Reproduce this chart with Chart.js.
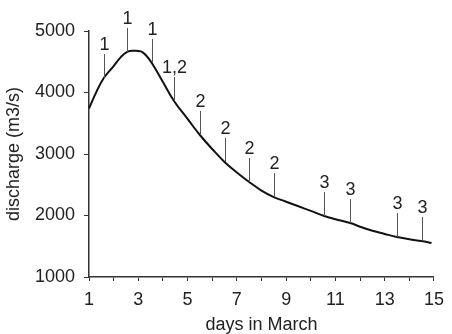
<!DOCTYPE html>
<html>
<head>
<meta charset="utf-8">
<script src="https://cdn.jsdelivr.net/npm/chart.js@4"></script>
<style>
  body { margin: 0; background: #fff; }
  #wrap { width: 452px; height: 334px; }
</style>
</head>
<body>
<div id="wrap"><canvas id="chart-discharge"></canvas></div>
<script>
// discharge curve
const days = [1, 1.3, 1.6, 2, 2.3, 2.55, 2.8, 3.1, 3.3, 3.55, 4, 4.45, 5, 5.5, 6, 6.5,
  7, 7.5, 8, 8.5, 9, 9.5, 10, 10.55, 11, 11.6, 12, 12.5, 13, 13.5, 14, 14.5, 14.9];
const discharge = [3740, 4010, 4236, 4430, 4580, 4660, 4678, 4668, 4610, 4480, 4170, 3862,
  3570, 3309, 3081, 2870, 2700, 2545, 2406, 2300, 2224, 2150, 2075, 1992, 1940, 1878,
  1818, 1753, 1700, 1650, 1613, 1585, 1553];

// labelled markers along the curve
const markerDays = [1.6, 2.55, 3.55, 4.45, 5.5, 6.5, 7.5, 8.5, 10.55, 11.6, 13.5, 14.5];
const markerValues = [4236, 4660, 4480, 3862, 3309, 2870, 2545, 2300, 1992, 1878, 1650, 1585];
const markerLabels = ["1", "1", "1", "1,2", "2", "2", "2", "2", "3", "3", "3", "3"];

const yTicks = [1000, 2000, 3000, 4000, 5000];

const ctx = document.getElementById("chart-discharge");
const FONT = "'Liberation Sans', Arial, sans-serif";
const INK = "#222";

const markerPlugin = {
  id: "markers",
  afterDatasetsDraw(chart) {
    const { ctx, scales } = chart;
    ctx.save();
    ctx.strokeStyle = "#555";
    ctx.lineWidth = 1;
    ctx.fillStyle = INK;
    ctx.font = "18px " + FONT;
    ctx.textAlign = "center";
    ctx.textBaseline = "middle";
    markerDays.forEach((d, i) => {
      const px = Math.round(scales.x.getPixelForValue(d)) + 0.5;
      const py = scales.y.getPixelForValue(markerValues[i]);
      ctx.beginPath();
      ctx.moveTo(px, py);
      ctx.lineTo(px, py - 24);
      ctx.stroke();
      ctx.fillText(markerLabels[i], px, py - 33);
    });
    ctx.restore();
  },
};

new Chart(ctx, {
  type: "line",
  data: {
    datasets: [
      {
        label: "discharge",
        data: days.map((d, i) => ({ x: d, y: discharge[i] })),
        borderColor: "#111",
        borderWidth: 2,
        pointRadius: 0,
        tension: 0.4,
        fill: false,
      },
    ],
  },
  options: {
    responsive: true,
    maintainAspectRatio: false,
    animation: false,
    layout: { padding: { left: 0, right: 10, top: 31, bottom: 0 } },
    plugins: {
      legend: { display: false },
      tooltip: { enabled: false },
    },
    scales: {
      x: {
        type: "linear",
        min: 1,
        max: 15,
        afterFit(scale) {
          scale.height = 57;
        },
        grid: {
          drawOnChartArea: false,
          tickLength: 4,
          color: "#333",
        },
        border: { color: "#333", width: 1.5 },
        ticks: {
          stepSize: 1,
          autoSkip: false,
          maxRotation: 0,
          padding: 8,
          color: INK,
          font: { family: FONT, size: 18 },
          callback: (v) => (v % 2 === 1 ? String(v) : ""),
        },
        title: {
          display: true,
          text: "days in March",
          color: INK,
          font: { family: FONT, size: 18, lineHeight: 1 },
          padding: 0,
        },
      },
      y: {
        min: 1000,
        max: 5000,
        afterFit(scale) {
          scale.width = 89;
        },
        afterBuildTicks(scale) {
          scale.ticks = yTicks.map((v) => ({ value: v }));
        },
        grid: {
          drawOnChartArea: false,
          tickLength: 5,
          color: "#333",
        },
        border: { color: "#333", width: 1.5 },
        ticks: {
          padding: 9,
          color: INK,
          font: { family: FONT, size: 18 },
          callback: (v) => String(v),
        },
        title: {
          display: true,
          text: "discharge (m3/s)",
          color: INK,
          font: { family: FONT, size: 18, lineHeight: 1 },
          padding: { top: 5, bottom: 0 },
        },
      },
    },
  },
  plugins: [markerPlugin],
});
</script>
</body>
</html>
